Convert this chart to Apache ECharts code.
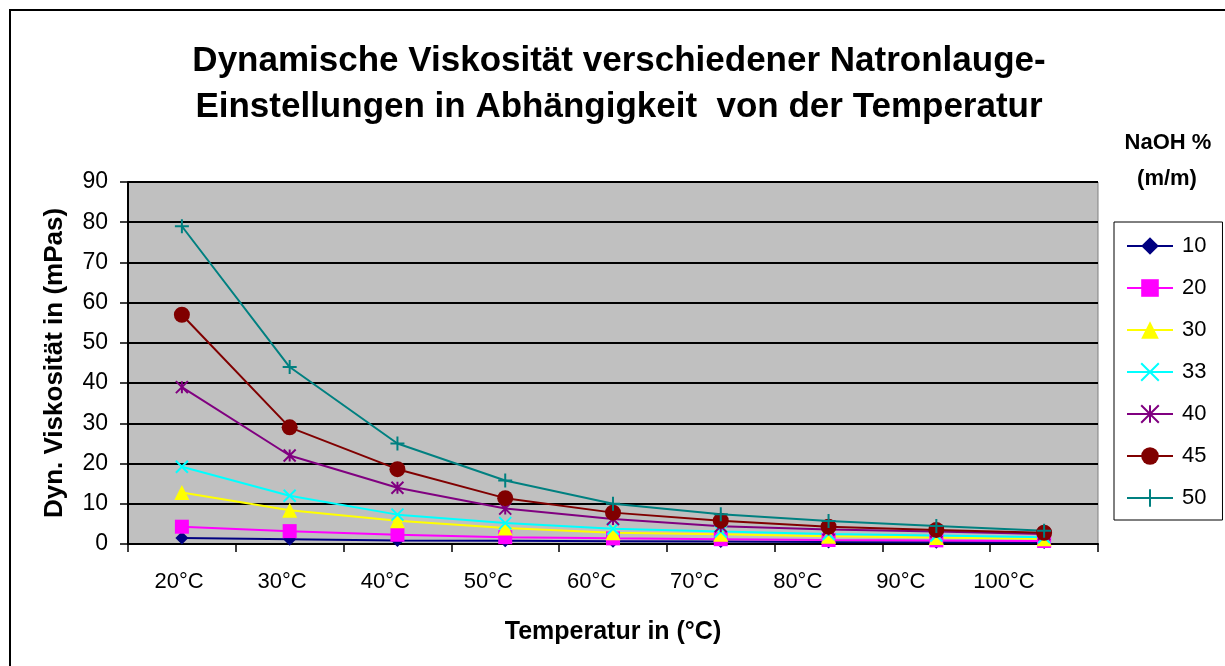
<!DOCTYPE html>
<html>
<head>
<meta charset="utf-8">
<script src="https://cdn.jsdelivr.net/npm/echarts@6/dist/echarts.min.js"></script>
<style>
html,body{margin:0;padding:0;background:#fff;}
#chart{width:1225px;height:666px;}
</style>
</head>
<body>
<div id="chart"></div>
<script>
var temps = ['20°C','30°C','40°C','50°C','60°C','70°C','80°C','90°C','100°C'];
var naoh10 = [1.5, 1.2, 0.9, 0.8, 0.7, 0.6, 0.5, 0.45, 0.4];
var naoh20 = [4.3, 3.2, 2.3, 1.7, 1.4, 1.2, 1.0, 0.9, 0.75];
var naoh30 = [12.8, 8.4, 5.8, 4.0, 2.8, 2.4, 1.9, 1.6, 1.3];
var naoh33 = [19.2, 12, 7.3, 5.2, 3.8, 3.1, 2.5, 2.1, 1.7];
var naoh40 = [39, 22, 14, 8.8, 6.2, 4.4, 3.6, 3.1, 2.5];
var naoh45 = [57, 29, 18.6, 11.4, 7.8, 5.8, 4.3, 3.5, 2.8];
var naoh50 = [79, 44, 25, 15.8, 10, 7.4, 5.7, 4.5, 3.3];

var font = 'Liberation Sans, Arial, sans-serif';
var xMark = 'path://M0,0L10,10M10,0L0,10';
var starMark = 'path://M0,0L10,10M10,0L0,10M5,0L5,10';
var plusMark = 'path://M5,0L5,10M0,5L10,5';

function makeSerie(name, data, color, symbol, size, stroke){
	var serie = {
		name: name,
		type: 'line',
		data: data,
		symbol: symbol,
		symbolSize: size,
		showAllSymbol: true,
		lineStyle: {color: color, width: 2},
		itemStyle: {color: color},
		emphasis: {disabled: true}
	};
	if(stroke){
		serie.itemStyle.borderColor = color;
		serie.itemStyle.borderWidth = 2;
	}
	return serie;
}

var series = [
	makeSerie('10', naoh10, '#000080', 'diamond', 13, false),
	makeSerie('20', naoh20, '#ff00ff', 'rect', 14, false),
	makeSerie('30', naoh30, '#ffff00', 'triangle', 15, false),
	makeSerie('33', naoh33, '#00ffff', xMark, 12, true),
	makeSerie('40', naoh40, '#800080', starMark, 12, true),
	makeSerie('45', naoh45, '#800000', 'circle', 16, false),
	makeSerie('50', naoh50, '#008080', plusMark, 14, true)
];

var chart = echarts.init(document.getElementById('chart'));
chart.setOption({
	animation: false,
	backgroundColor: '#fff',
	textStyle: {fontFamily: font},
	graphic: [{
		type: 'rect',
		shape: {x: 10, y: 10, width: 1240, height: 700},
		style: {fill: 'none', stroke: '#000', lineWidth: 2},
		silent: true
	}, {
		type: 'text',
		x: 1168, y: 143,
		style: {text: 'NaOH %', font: 'bold 22px ' + font, fill: '#000', align: 'center', verticalAlign: 'middle'},
		silent: true
	}, {
		type: 'text',
		x: 1167, y: 179,
		style: {text: '(m/m)', font: 'bold 22px ' + font, fill: '#000', align: 'center', verticalAlign: 'middle'},
		silent: true
	}],
	title: {
		text: 'Dynamische Viskosität verschiedener Natronlauge-\nEinstellungen in Abhängigkeit  von der Temperatur',
		left: 614, top: 33, textAlign: 'center',
		textStyle: {fontFamily: font, fontSize: 35, fontWeight: 'bold', color: '#000', lineHeight: 46}
	},
	legend: {
		orient: 'vertical',
		left: 1114, top: 222,
		padding: [13, 16, 11, 12],
		itemGap: 20,
		itemWidth: 46,
		itemHeight: 22,
		borderColor: '#000',
		borderWidth: 1,
		textStyle: {fontSize: 22, color: '#000', fontFamily: font, padding: [0, 0, 0, 4]},
		data: ['10','20','30','33','40','45','50']
	},
	grid: [{
		left: 128, top: 182, width: 970, height: 362,
		show: true, backgroundColor: '#c0c0c0', borderColor: '#808080', borderWidth: 1
	}, {
		left: 127.5, top: 182, width: 928, height: 362, show: false
	}],
	xAxis: [{
		type: 'category',
		gridIndex: 0,
		data: temps,
		boundaryGap: true,
		axisLine: {lineStyle: {color: '#000', width: 2}},
		axisTick: {show: true, length: 8, lineStyle: {color: '#000', width: 1.5}},
		axisLabel: {show: false},
		name: 'Temperatur in (°C)',
		nameLocation: 'middle',
		nameGap: 76,
		nameTextStyle: {fontFamily: font, fontSize: 25, fontWeight: 'bold', color: '#000'}
	}, {
		type: 'category',
		gridIndex: 1,
		data: temps,
		axisLine: {show: false},
		axisTick: {show: false},
		axisLabel: {margin: 27, fontSize: 22, color: '#000', fontFamily: font}
	}],
	yAxis: [{
		type: 'value',
		gridIndex: 0,
		min: 0, max: 90, interval: 10,
		axisLine: {show: true, lineStyle: {color: '#000', width: 2}},
		axisTick: {show: true, length: 8, lineStyle: {color: '#000', width: 1.5}},
		splitLine: {lineStyle: {color: '#000', width: 2}},
		axisLabel: {margin: 20, fontSize: 23, color: '#000', fontFamily: font},
		name: 'Dyn. Viskosität in (mPas)',
		nameLocation: 'middle',
		nameGap: 60,
		nameTextStyle: {fontFamily: font, fontSize: 26, fontWeight: 'bold', color: '#000'}
	}, {
		type: 'value',
		gridIndex: 1,
		show: false
	}],
	series: series
});
</script>
</body>
</html>
